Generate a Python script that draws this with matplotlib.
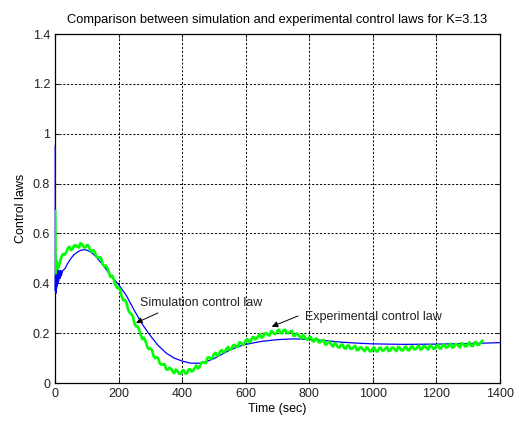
import numpy as np
import matplotlib
matplotlib.use("Agg")
import matplotlib.pyplot as plt

# ===============================
# DATA
# ===============================
TITLE = "Comparison between simulation and experimental control laws for K=3.13"
X_LABEL = "Time (sec)"
Y_LABEL = "Control laws"

# simulation control law (blue)
sim_t = [0.6, 1, 2, 3, 4, 5, 6, 7, 8, 9, 10, 12, 14, 16, 18, 20, 24, 28, 32,
         40, 50, 60, 70, 80, 90, 100, 110, 120, 130, 140, 150, 160, 170,
         180, 190, 200, 225, 250, 275, 300, 325, 350, 375, 400, 425, 450,
         475, 500, 525, 550, 575, 600, 650, 700, 750, 800, 850, 900, 950,
         1000, 1100, 1200, 1300, 1400]
sim_v = [0.95, 0.37, 0.47, 0.36, 0.46, 0.38, 0.46, 0.39, 0.455, 0.40, 0.45,
         0.41, 0.45, 0.42, 0.452, 0.43, 0.45, 0.455, 0.46,
         0.48, 0.50, 0.515, 0.525, 0.532, 0.535, 0.533, 0.527, 0.518, 0.505,
         0.49, 0.475, 0.458, 0.44, 0.425, 0.41, 0.395, 0.35, 0.29, 0.235,
         0.19, 0.15, 0.12, 0.10, 0.088, 0.08, 0.079, 0.085, 0.098, 0.115,
         0.132, 0.145, 0.155, 0.167, 0.174, 0.177, 0.175, 0.17, 0.164, 0.16,
         0.157, 0.155, 0.156, 0.158, 0.162]

# experimental control law (green, noisy): samples at 0..1340 s every 10 s
exp_t = [0.6, 2, 5] + list(range(10, 1350, 10))
exp_v = [0.69, 0.44, 0.49,
         0.460, 0.506, 0.515, 0.539, 0.533, 0.551, 0.547, 0.561, 0.546, 0.553,
         0.534, 0.533, 0.508, 0.504, 0.476, 0.471, 0.442, 0.431, 0.394, 0.382,
         0.346, 0.333, 0.295, 0.276, 0.239, 0.226, 0.193, 0.181, 0.146, 0.138,
         0.109, 0.104, 0.078, 0.075, 0.055, 0.061, 0.047, 0.054, 0.038, 0.048,
         0.038, 0.053, 0.046, 0.061, 0.058, 0.080, 0.081, 0.102, 0.097, 0.115,
         0.110, 0.128, 0.123, 0.137, 0.132, 0.151, 0.147, 0.163, 0.154, 0.170,
         0.164, 0.181, 0.175, 0.189, 0.182, 0.199, 0.194, 0.208, 0.197, 0.210,
         0.201, 0.213, 0.200, 0.206, 0.190, 0.199, 0.186, 0.193, 0.176, 0.184,
         0.169, 0.178, 0.163, 0.169, 0.155, 0.165, 0.153, 0.161, 0.144, 0.153,
         0.140, 0.150, 0.137, 0.144, 0.132, 0.143, 0.133, 0.143, 0.128, 0.139,
         0.128, 0.140, 0.130, 0.139, 0.128, 0.142, 0.133, 0.145, 0.131, 0.143,
         0.132, 0.145, 0.135, 0.144, 0.134, 0.148, 0.139, 0.151, 0.138, 0.149,
         0.139, 0.152, 0.142, 0.152, 0.142, 0.156, 0.148, 0.160, 0.147, 0.159,
         0.149, 0.162, 0.152, 0.162]

# in-between samples at 15..1345 s
exp_mid_t = list(range(15, 1350, 10))
exp_mid_v = [0.482, 0.517, 0.524, 0.547, 0.537, 0.553, 0.543, 0.557, 0.543,
             0.552, 0.526, 0.527, 0.503, 0.501, 0.468, 0.460, 0.425, 0.416,
             0.382, 0.373, 0.332, 0.321, 0.282, 0.268, 0.227, 0.213, 0.176,
             0.167, 0.136, 0.132, 0.099, 0.098, 0.073, 0.076, 0.053, 0.058,
             0.039, 0.049, 0.037, 0.052, 0.038, 0.056, 0.050, 0.070, 0.064,
             0.084, 0.080, 0.103, 0.100, 0.121, 0.111, 0.132, 0.127, 0.145,
             0.136, 0.153, 0.144, 0.162, 0.156, 0.176, 0.165, 0.185, 0.179,
             0.196, 0.185, 0.200, 0.190, 0.206, 0.197, 0.214, 0.199, 0.213,
             0.200, 0.209, 0.189, 0.196, 0.178, 0.188, 0.174, 0.185, 0.166,
             0.177, 0.163, 0.173, 0.155, 0.163, 0.146, 0.156, 0.142, 0.155,
             0.137, 0.150, 0.137, 0.149, 0.132, 0.142, 0.127, 0.139, 0.127,
             0.142, 0.126, 0.142, 0.131, 0.144, 0.130, 0.141, 0.128, 0.141,
             0.131, 0.146, 0.131, 0.147, 0.136, 0.150, 0.136, 0.147, 0.134,
             0.148, 0.137, 0.153, 0.138, 0.154, 0.144, 0.158, 0.144, 0.156,
             0.143, 0.157, 0.147, 0.163, 0.148, 0.164, 0.154, 0.169]

X_TICKS = [0, 200, 400, 600, 800, 1000, 1200, 1400]
Y_TICKS = [0, 0.2, 0.4, 0.6, 0.8, 1.0, 1.2, 1.4]
Y_TICK_LABELS = ["0", "0.2", "0.4", "0.6", "0.8", "1", "1.2", "1.4"]

# merge both sample sets in time order
green_t = np.array(exp_t + exp_mid_t, dtype=float)
green_v = np.array(exp_v + exp_mid_v, dtype=float)
order = np.argsort(green_t, kind="stable")
green_t, green_v = green_t[order], green_v[order]

# ===============================
# PLOT
# ===============================
plt.rcParams["font.family"] = ["Liberation Sans", "DejaVu Sans"]

fig = plt.figure(figsize=(5.19, 4.22), dpi=100)
ax = fig.add_axes([0.106, 0.0924, 0.857, 0.827])

ax.plot(sim_t, sim_v, color="#0000ff", linewidth=0.9, zorder=3,
        clip_on=False)
ax.plot(green_t, green_v, color="#00ff00", linewidth=1.9, zorder=4)

ax.set_xlim(0, 1400)
ax.set_ylim(0, 1.4)
ax.set_xticks(X_TICKS)
ax.set_yticks(Y_TICKS)
ax.set_yticklabels(Y_TICK_LABELS)

ax.grid(True, color="black", linestyle=(0, (2.2, 1.8)), linewidth=0.7)
ax.tick_params(direction="in", length=3, top=True, right=True,
               labelsize=9, colors="#222222")
for s in ax.spines.values():
    s.set_linewidth(0.9)

ax.set_title(TITLE, fontsize=9.3, pad=8)
ax.set_xlabel(X_LABEL, fontsize=9, labelpad=2)
ax.set_ylabel(Y_LABEL, fontsize=9, labelpad=4)

# annotations
arrow = dict(arrowstyle="-|>", color="black", lw=0.7, mutation_scale=9,
             shrinkA=0, shrinkB=0)
ax.annotate("", xy=(255, 0.241), xytext=(324, 0.281), arrowprops=arrow,
            zorder=5)
ax.text(267, 0.321, "Simulation control law", fontsize=9, va="center",
        color="#222222", zorder=5)

ax.annotate("", xy=(682, 0.226), xytext=(765, 0.269), arrowprops=arrow,
            zorder=5)
ax.text(786, 0.266, "Experimental control law", fontsize=9, va="center",
        color="#222222", zorder=5)

fig.savefig("out.png", dpi=100)
